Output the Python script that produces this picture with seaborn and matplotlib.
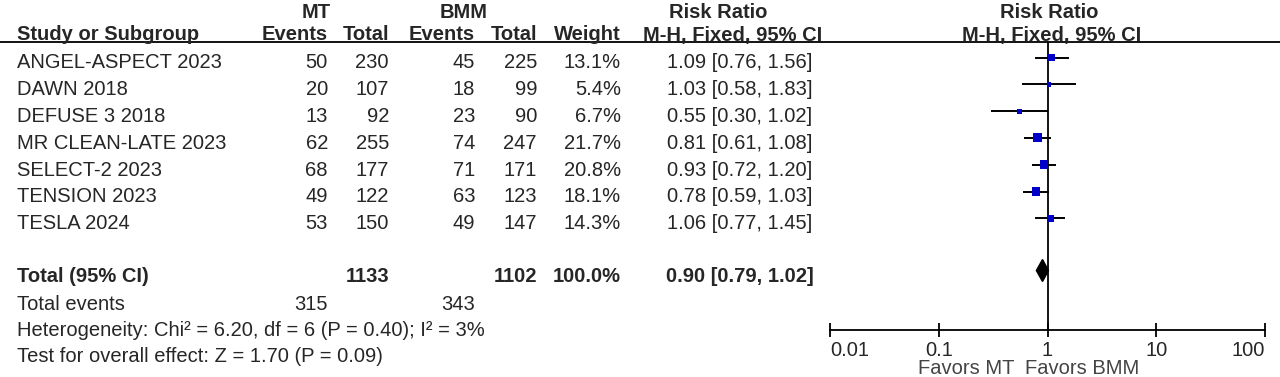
import numpy as np
import pandas as pd
import seaborn as sns
import matplotlib.pyplot as plt
from matplotlib.lines import Line2D

# data
studies = ["ANGEL-ASPECT 2023", "DAWN 2018", "DEFUSE 3 2018", "MR CLEAN-LATE 2023",
           "SELECT-2 2023", "TENSION 2023", "TESLA 2024"]
mt_events = [50, 20, 13, 62, 68, 49, 53]
mt_total = [230, 107, 92, 255, 177, 122, 150]
bmm_events = [45, 18, 23, 74, 71, 63, 49]
bmm_total = [225, 99, 90, 247, 171, 123, 147]
weight = [13.1, 5.4, 6.7, 21.7, 20.8, 18.1, 14.3]
rr = [1.09, 1.03, 0.55, 0.81, 0.93, 0.78, 1.06]
ci_lo = [0.76, 0.58, 0.30, 0.61, 0.72, 0.59, 0.77]
ci_hi = [1.56, 1.83, 1.02, 1.08, 1.20, 1.03, 1.45]
total_mt_events, total_bmm_events = 315, 343
total_mt, total_bmm = 1133, 1102
total_weight = 100.0
pooled_rr, pooled_lo, pooled_hi = 0.90, 0.79, 1.02
ticks = [0.01, 0.1, 1, 10, 100]
tick_labels = ["0.01", "0.1", "1", "10", "100"]

df = pd.DataFrame({"study": studies, "rr": rr, "lo": ci_lo, "hi": ci_hi, "weight": weight})

sns.set_theme(style="white")
plt.rcParams["font.family"] = ["Liberation Sans", "DejaVu Sans"]
FS = 14.5

W, H = 1280, 377
fig = plt.figure(figsize=(W / 100, H / 100), dpi=100)

def fx(px):
    return px / W

def fy(py):
    return 1 - py / H

# layout (pixel rows)
row0, drow = 63, 26.8
row_y = [row0 + i * drow for i in range(len(studies))]
y_total, y_events, y_het, y_test = 276, 304, 331, 357
mark_off = -5.5

# header
bold = dict(fontsize=FS, fontweight="bold")
fig.text(fx(316), fy(13), "MT", ha="center", va="center", **bold)
fig.text(fx(464), fy(13), "BMM", ha="center", va="center", **bold)
fig.text(fx(718), fy(13), "Risk Ratio", ha="center", va="center", **bold)
fig.text(fx(1049), fy(13), "Risk Ratio", ha="center", va="center", **bold)
fig.text(fx(17), fy(35), "Study or Subgroup", ha="left", va="center", **bold)
cols = [(328, "Events"), (389, "Total"), (475, "Events"), (537, "Total"), (621, "Weight")]
for x, lab in cols:
    fig.text(fx(x), fy(35), lab, ha="right", va="center", **bold)
fig.text(fx(733), fy(35), "M-H, Fixed, 95% CI", ha="center", va="center", **bold)
fig.text(fx(1052), fy(35), "M-H, Fixed, 95% CI", ha="center", va="center", **bold)
fig.add_artist(Line2D([0, 1], [fy(42), fy(42)], color="black", lw=1.3))

# study rows
for i, y in enumerate(row_y):
    fig.text(fx(17), fy(y), studies[i], ha="left", va="center", fontsize=FS)
    vals = [mt_events[i], mt_total[i], bmm_events[i], bmm_total[i], f"{weight[i]:.1f}%"]
    for (x, _), v in zip(cols, vals):
        fig.text(fx(x), fy(y), str(v), ha="right", va="center", fontsize=FS)
    fig.text(fx(740), fy(y), f"{rr[i]:.2f} [{ci_lo[i]:.2f}, {ci_hi[i]:.2f}]",
             ha="center", va="center", fontsize=FS)

# totals
fig.text(fx(17), fy(y_total), "Total (95% CI)", ha="left", va="center", **bold)
fig.text(fx(389), fy(y_total), str(total_mt), ha="right", va="center", **bold)
fig.text(fx(537), fy(y_total), str(total_bmm), ha="right", va="center", **bold)
fig.text(fx(621), fy(y_total), f"{total_weight:.1f}%", ha="right", va="center", **bold)
fig.text(fx(740), fy(y_total), f"{pooled_rr:.2f} [{pooled_lo:.2f}, {pooled_hi:.2f}]",
         ha="center", va="center", **bold)
fig.text(fx(17), fy(y_events), "Total events", ha="left", va="center", fontsize=FS)
fig.text(fx(328), fy(y_events), str(total_mt_events), ha="right", va="center", fontsize=FS)
fig.text(fx(475), fy(y_events), str(total_bmm_events), ha="right", va="center", fontsize=FS)
fig.text(fx(17), fy(y_het), "Heterogeneity: Chi² = 6.20, df = 6 (P = 0.40); I² = 3%",
         ha="left", va="center", fontsize=FS)
fig.text(fx(17), fy(y_test), "Test for overall effect: Z = 1.70 (P = 0.09)",
         ha="left", va="center", fontsize=FS)

# forest panel, y in pixel rows
ax = fig.add_axes([fx(830), 0, fx(1265) - fx(830), 1])
ax.set_xscale("log")
ax.set_xlim(0.01, 100)
ax.set_ylim(H, 0)
ax.patch.set_alpha(0)

df["y"] = [y + mark_off for y in row_y]
ax.hlines(df["y"], df["lo"], df["hi"], color="black", lw=1.4, zorder=2)
side_k = 1.93 * 0.72  # pt per sqrt(weight)
wmin, wmax = min(weight), max(weight)
sns.scatterplot(data=df, x="rr", y="y", size="weight", marker="s", color="#0000c8",
                edgecolor="none", sizes=((side_k ** 2) * wmin, (side_k ** 2) * wmax),
                size_norm=(wmin, wmax), legend=False, ax=ax, zorder=3)

yd = y_total + mark_off
ax.fill([pooled_lo, pooled_rr, pooled_hi, pooled_rr], [yd, yd - 11, yd, yd + 11],
        color="black", zorder=3)

ax.vlines(1, 42, 330, color="black", lw=1.3, zorder=1)

for s in ["top", "left", "right"]:
    ax.spines[s].set_visible(False)
ax.spines["bottom"].set_position(("data", 330))
ax.spines["bottom"].set_linewidth(1.3)
ax.spines["bottom"].set_color("black")
ax.set_xticks(ticks)
ax.set_xticklabels(tick_labels, fontsize=FS)
ax.minorticks_off()
ax.tick_params(axis="x", direction="inout", length=10, width=1.3, color="black", pad=3, bottom=True)
lbls = ax.get_xticklabels()
lbls[0].set_ha("left")
lbls[-1].set_ha("right")
ax.set_yticks([])
ax.set_xlabel("")
ax.set_ylabel("")

fig.text(fx(1014), fy(368), "Favors MT", ha="right", va="center", fontsize=FS, color="#444444")
fig.text(fx(1025), fy(368), "Favors BMM", ha="left", va="center", fontsize=FS, color="#444444")

fig.savefig("out.png", dpi=100)
